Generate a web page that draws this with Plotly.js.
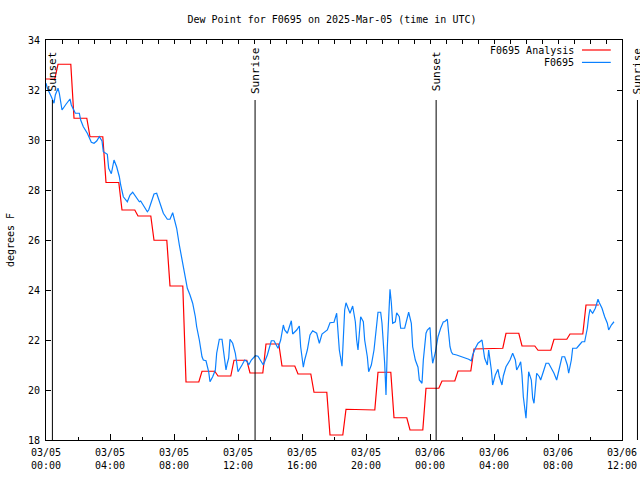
<!DOCTYPE html>
<html><head><meta charset="utf-8">
<script src="https://cdn.plot.ly/plotly-3.0.1.min.js"></script>
<style>html,body{margin:0;padding:0;background:#fff}#chart{width:640px;height:480px}</style>
</head><body><div id="chart"></div>
<script>
// ---- data ----
const chartTitle = "Dew Point for F0695 on 2025-Mar-05 (time in UTC)";
const yTitle = "degrees F";
const analysisName = "F0695 Analysis";
const obsName = "F0695";
const xRange = ["2025-03-05 00:00", "2025-03-06 12:00"];
const yRange = [18, 34];

// hourly analysis values starting 2025-03-05 00:00 UTC
const analysisStart = "2025-03-05 00:00";
const analysisValues = [32.44, 33.03, 30.87, 30.13, 28.3, 27.2, 26.96, 25.99, 24.16, 20.32,
  20.75, 20.56, 21.19, 20.68, 21.84, 20.96, 20.64, 19.91, 18.2, 19.23,
  19.2, 20.71, 18.89, 18.4, 20.07, 20.36, 20.76, 21.64, 21.67, 22.27,
  21.76, 21.59, 22.03, 22.24, 23.4];

const obsTimes = [
"2025-03-05 00:00","2025-03-05 00:05","2025-03-05 00:20","2025-03-05 00:30","2025-03-05 00:35","2025-03-05 00:45","2025-03-05 00:50",
"2025-03-05 01:00","2025-03-05 01:15","2025-03-05 01:30","2025-03-05 01:35","2025-03-05 01:45","2025-03-05 01:50",
"2025-03-05 02:05","2025-03-05 02:10","2025-03-05 02:20","2025-03-05 02:35","2025-03-05 02:50",
"2025-03-05 03:00","2025-03-05 03:10","2025-03-05 03:20","2025-03-05 03:30","2025-03-05 03:35","2025-03-05 03:50","2025-03-05 03:55",
"2025-03-05 04:05","2025-03-05 04:15","2025-03-05 04:25","2025-03-05 04:35","2025-03-05 04:40","2025-03-05 04:50",
"2025-03-05 05:05","2025-03-05 05:15","2025-03-05 05:25","2025-03-05 05:35","2025-03-05 05:50","2025-03-05 05:55",
"2025-03-05 06:05","2025-03-05 06:20","2025-03-05 06:25","2025-03-05 06:35","2025-03-05 06:45","2025-03-05 06:55",
"2025-03-05 07:05","2025-03-05 07:20","2025-03-05 07:35","2025-03-05 07:45","2025-03-05 07:55",
"2025-03-05 08:10","2025-03-05 08:20","2025-03-05 08:30","2025-03-05 08:40","2025-03-05 08:50",
"2025-03-05 09:00","2025-03-05 09:10","2025-03-05 09:20","2025-03-05 09:25","2025-03-05 09:35","2025-03-05 09:45","2025-03-05 09:50",
"2025-03-05 10:00","2025-03-05 10:10","2025-03-05 10:15","2025-03-05 10:25","2025-03-05 10:35","2025-03-05 10:40","2025-03-05 10:50",
"2025-03-05 11:00","2025-03-05 11:05","2025-03-05 11:10","2025-03-05 11:15","2025-03-05 11:20","2025-03-05 11:25","2025-03-05 11:30","2025-03-05 11:40","2025-03-05 11:50",
"2025-03-05 12:00","2025-03-05 12:15","2025-03-05 12:25","2025-03-05 12:35","2025-03-05 12:40","2025-03-05 12:50",
"2025-03-05 13:05","2025-03-05 13:15","2025-03-05 13:30","2025-03-05 13:35","2025-03-05 13:50",
"2025-03-05 14:05","2025-03-05 14:15","2025-03-05 14:30","2025-03-05 14:40","2025-03-05 14:50","2025-03-05 14:55",
"2025-03-05 15:05","2025-03-05 15:20","2025-03-05 15:25","2025-03-05 15:40","2025-03-05 15:50","2025-03-05 15:55",
"2025-03-05 16:05","2025-03-05 16:10","2025-03-05 16:20","2025-03-05 16:30","2025-03-05 16:40","2025-03-05 16:55",
"2025-03-05 17:05","2025-03-05 17:15","2025-03-05 17:25","2025-03-05 17:35","2025-03-05 17:45",
"2025-03-05 18:00","2025-03-05 18:10","2025-03-05 18:15","2025-03-05 18:20","2025-03-05 18:30","2025-03-05 18:35","2025-03-05 18:40","2025-03-05 18:45","2025-03-05 18:55",
"2025-03-05 19:00","2025-03-05 19:10","2025-03-05 19:20","2025-03-05 19:25","2025-03-05 19:30","2025-03-05 19:40","2025-03-05 19:50","2025-03-05 19:55",
"2025-03-05 20:05","2025-03-05 20:10","2025-03-05 20:20","2025-03-05 20:30","2025-03-05 20:40","2025-03-05 20:45","2025-03-05 20:55",
"2025-03-05 21:00","2025-03-05 21:10","2025-03-05 21:15","2025-03-05 21:20","2025-03-05 21:25","2025-03-05 21:30","2025-03-05 21:35","2025-03-05 21:40","2025-03-05 21:50","2025-03-05 21:55",
"2025-03-05 22:05","2025-03-05 22:10","2025-03-05 22:25","2025-03-05 22:35","2025-03-05 22:40","2025-03-05 22:50","2025-03-05 22:55",
"2025-03-05 23:05","2025-03-05 23:15","2025-03-05 23:20","2025-03-05 23:30","2025-03-05 23:35","2025-03-05 23:45","2025-03-05 23:50",
"2025-03-06 00:00","2025-03-06 00:05","2025-03-06 00:10","2025-03-06 00:20","2025-03-06 00:25","2025-03-06 00:30","2025-03-06 00:40","2025-03-06 00:50","2025-03-06 00:55",
"2025-03-06 01:05","2025-03-06 01:10","2025-03-06 01:15","2025-03-06 01:20","2025-03-06 01:25","2025-03-06 01:40",
"2025-03-06 02:00","2025-03-06 02:15","2025-03-06 02:25","2025-03-06 02:35","2025-03-06 02:40","2025-03-06 02:50",
"2025-03-06 03:00","2025-03-06 03:15","2025-03-06 03:20","2025-03-06 03:25","2025-03-06 03:35","2025-03-06 03:40","2025-03-06 03:50","2025-03-06 03:55",
"2025-03-06 04:05","2025-03-06 04:15","2025-03-06 04:20","2025-03-06 04:30","2025-03-06 04:35","2025-03-06 04:45",
"2025-03-06 05:00","2025-03-06 05:10","2025-03-06 05:20","2025-03-06 05:25","2025-03-06 05:35","2025-03-06 05:40","2025-03-06 05:45","2025-03-06 05:50",
"2025-03-06 06:00","2025-03-06 06:05","2025-03-06 06:10","2025-03-06 06:20","2025-03-06 06:25","2025-03-06 06:30","2025-03-06 06:35","2025-03-06 06:40","2025-03-06 06:50","2025-03-06 06:55",
"2025-03-06 07:05","2025-03-06 07:15","2025-03-06 07:25","2025-03-06 07:35","2025-03-06 07:45","2025-03-06 07:55",
"2025-03-06 08:05","2025-03-06 08:15","2025-03-06 08:25","2025-03-06 08:35","2025-03-06 08:40","2025-03-06 08:50","2025-03-06 08:55",
"2025-03-06 09:10","2025-03-06 09:20","2025-03-06 09:30","2025-03-06 09:40","2025-03-06 09:50","2025-03-06 09:55",
"2025-03-06 10:00","2025-03-06 10:05","2025-03-06 10:10","2025-03-06 10:20","2025-03-06 10:25","2025-03-06 10:30","2025-03-06 10:35","2025-03-06 10:45","2025-03-06 10:55",
"2025-03-06 11:05","2025-03-06 11:10","2025-03-06 11:20","2025-03-06 11:30"];

const obsValues = [
32.27,32.07,31.73,31.47,31.8,32.07,31.87,
31.2,31.43,31.64,31.4,31.13,31.07,
31.07,30.8,30.53,30.27,29.91,
29.87,29.96,30.13,29.96,29.53,29.43,28.87,
28.65,29.2,28.93,28.53,28.2,27.73,
27.53,27.8,27.91,27.77,27.53,27.56,
27.37,27.13,27.2,27.53,27.84,27.87,
27.53,27.07,26.83,26.83,27.09,
26.47,25.8,25.2,24.67,24.07,
23.8,23.47,22.93,22.53,22.0,21.33,21.2,
21.17,20.73,20.33,20.53,20.8,21.47,22.03,
22.03,21.6,21.13,20.8,21.07,21.27,22.03,21.87,21.47,
20.73,21.0,21.2,21.13,21.0,21.2,
21.37,21.35,21.07,21.0,21.4,
21.97,21.97,21.67,22.0,22.6,22.4,
22.27,22.77,22.24,22.4,22.56,21.73,
20.91,21.2,21.6,22.2,22.37,22.27,
21.87,22.24,22.33,22.4,22.69,
22.71,23.07,22.4,21.6,20.95,22.13,23.2,23.49,23.2,
23.07,23.36,22.73,22.0,21.6,22.93,22.73,22.0,
21.33,20.73,21.0,21.6,22.53,23.11,23.11,
22.67,21.07,19.8,21.73,23.07,24.03,23.49,22.67,22.73,23.09,
22.93,22.47,22.47,22.83,23.11,22.67,21.73,
21.2,20.91,20.4,20.27,21.2,22.27,22.4,
22.5,21.6,21.07,21.5,21.8,22.13,22.47,22.73,22.73,
22.83,22.27,21.73,21.53,21.44,21.4,
21.33,21.27,21.23,21.17,21.4,21.67,
21.87,22.0,21.67,21.27,21.0,21.6,20.8,20.2,
20.6,20.83,20.53,20.2,20.56,20.93,
21.2,21.47,21.2,20.8,21.0,21.13,20.6,19.73,
18.87,19.8,20.73,20.4,19.67,19.47,20.2,20.67,20.53,20.4,
20.73,21.07,21.07,20.87,20.67,20.4,
20.93,21.33,21.33,21.0,20.67,21.2,21.67,
21.67,21.8,21.93,21.93,22.47,22.93,
23.23,23.13,23.07,23.27,23.44,23.63,23.49,23.27,22.93,
22.67,22.4,22.6,22.73];

const sunTimes = ["2025-03-05 00:24", "2025-03-05 13:04", "2025-03-06 00:23", "2025-03-06 12:58"];
const sunLabels = ["Sunset", "Sunrise", "Sunset", "Sunrise"];

// ---- helpers ----
const MONO = "DejaVu Sans Mono, monospace";
const toMs = s => Date.parse(s.replace(" ", "T") + ":00Z");
const toStr = ms => new Date(ms).toISOString().slice(0, 16).replace("T", " ");
const x0ms = toMs(xRange[0]), x1ms = toMs(xRange[1]);
const toPaperX = s => (toMs(s) - x0ms) / (x1ms - x0ms);

// analysis: each hourly value is held around its hour, with short ramps between
const aX = [], aY = [];
const aStart = toMs(analysisStart);
analysisValues.forEach((v, k) => {
  const base = aStart + k * 3600e3;
  aX.push(toStr(Math.max(aStart, base - 15 * 60e3))); aY.push(v);
  aX.push(toStr(base + 33 * 60e3)); aY.push(v);
});

const traces = [
  {x: aX, y: aY, type: "scatter", mode: "lines", name: analysisName,
   line: {color: "#ff0000", width: 1.2}, showlegend: false},
  {x: obsTimes, y: obsValues, type: "scatter", mode: "lines", name: obsName,
   line: {color: "#0a80ff", width: 1.2}, showlegend: false},
  {x: [xRange[0]], y: [null], xaxis: "x2", type: "scatter", mode: "lines", showlegend: false, hoverinfo: "skip"}
];

const shapes = [], annotations = [];
sunTimes.forEach((t, i) => {
  const px = toPaperX(t);
  shapes.push({type: "line", xref: "paper", yref: "paper", x0: px, x1: px, y0: 0, y1: 0.85,
    line: {color: "#000", width: 1}});
  annotations.push({xref: "paper", yref: "paper", x: px, y: 0.9225, text: sunLabels[i],
    textangle: -90, showarrow: false, xanchor: "center", yanchor: "middle",
    font: {family: MONO, size: 11, color: "#000"}});
});

// legend (text then sample, right aligned as in original)
const legendItems = [[analysisName, "#ff0000", 0.975], [obsName, "#0a80ff", 0.944]];
legendItems.forEach(([name, col, y]) => {
  annotations.push({xref: "paper", yref: "paper", x: 0.9200, y: y, text: name, showarrow: false,
    xanchor: "right", yanchor: "middle", font: {family: MONO, size: 10, color: "#000"}});
  shapes.push({type: "line", xref: "paper", yref: "paper", x0: 0.9305, x1: 0.9805, y0: y, y1: y,
    line: {color: col, width: 1.2}});
});

const layout = {
  width: 640, height: 480,
  margin: {l: 46, r: 18, t: 40, b: 40, pad: 0},
  paper_bgcolor: "#fff", plot_bgcolor: "#fff",
  font: {family: MONO, size: 10, color: "#000"},
  title: {text: chartTitle, x: 332 / 640, xref: "container", xanchor: "center",
          y: 1 - 19 / 480, yref: "container", yanchor: "middle",
          font: {family: MONO, size: 10, color: "#000"}},
  showlegend: false,
  xaxis: {type: "date", range: xRange, tick0: xRange[0], dtick: 4 * 3600e3,
          tickformat: "%m/%d<br>%H:%M", ticks: "inside", ticklen: 6, tickwidth: 1, tickcolor: "#000",
          ticklabelstandoff: 3,
          minor: {dtick: 2 * 3600e3, ticks: "inside", ticklen: 3, tickcolor: "#000", showgrid: false},
          showline: true, linecolor: "#000", linewidth: 1, showgrid: false, zeroline: false,
          tickfont: {family: MONO, size: 10, color: "#000"}, fixedrange: true},
  xaxis2: {type: "date", range: xRange, overlaying: "x", side: "top", tick0: xRange[0], dtick: 3600e3,
           ticks: "inside", ticklen: 4, tickcolor: "#000", showticklabels: false,
           showline: true, linecolor: "#000", linewidth: 1, showgrid: false, zeroline: false},
  yaxis: {range: yRange, dtick: 2, tick0: 18, ticks: "inside", ticklen: 5, tickcolor: "#000",
          ticklabelstandoff: 3,
          mirror: "ticks", showline: true, linecolor: "#000", linewidth: 1,
          showgrid: false, zeroline: false, tickfont: {family: MONO, size: 10, color: "#000"},
          title: {text: yTitle, standoff: 11, font: {family: MONO, size: 10, color: "#000"}}},
  shapes: shapes,
  annotations: annotations
};

Plotly.newPlot("chart", traces, layout, {displayModeBar: false, staticPlot: true});
</script>
</body></html>
